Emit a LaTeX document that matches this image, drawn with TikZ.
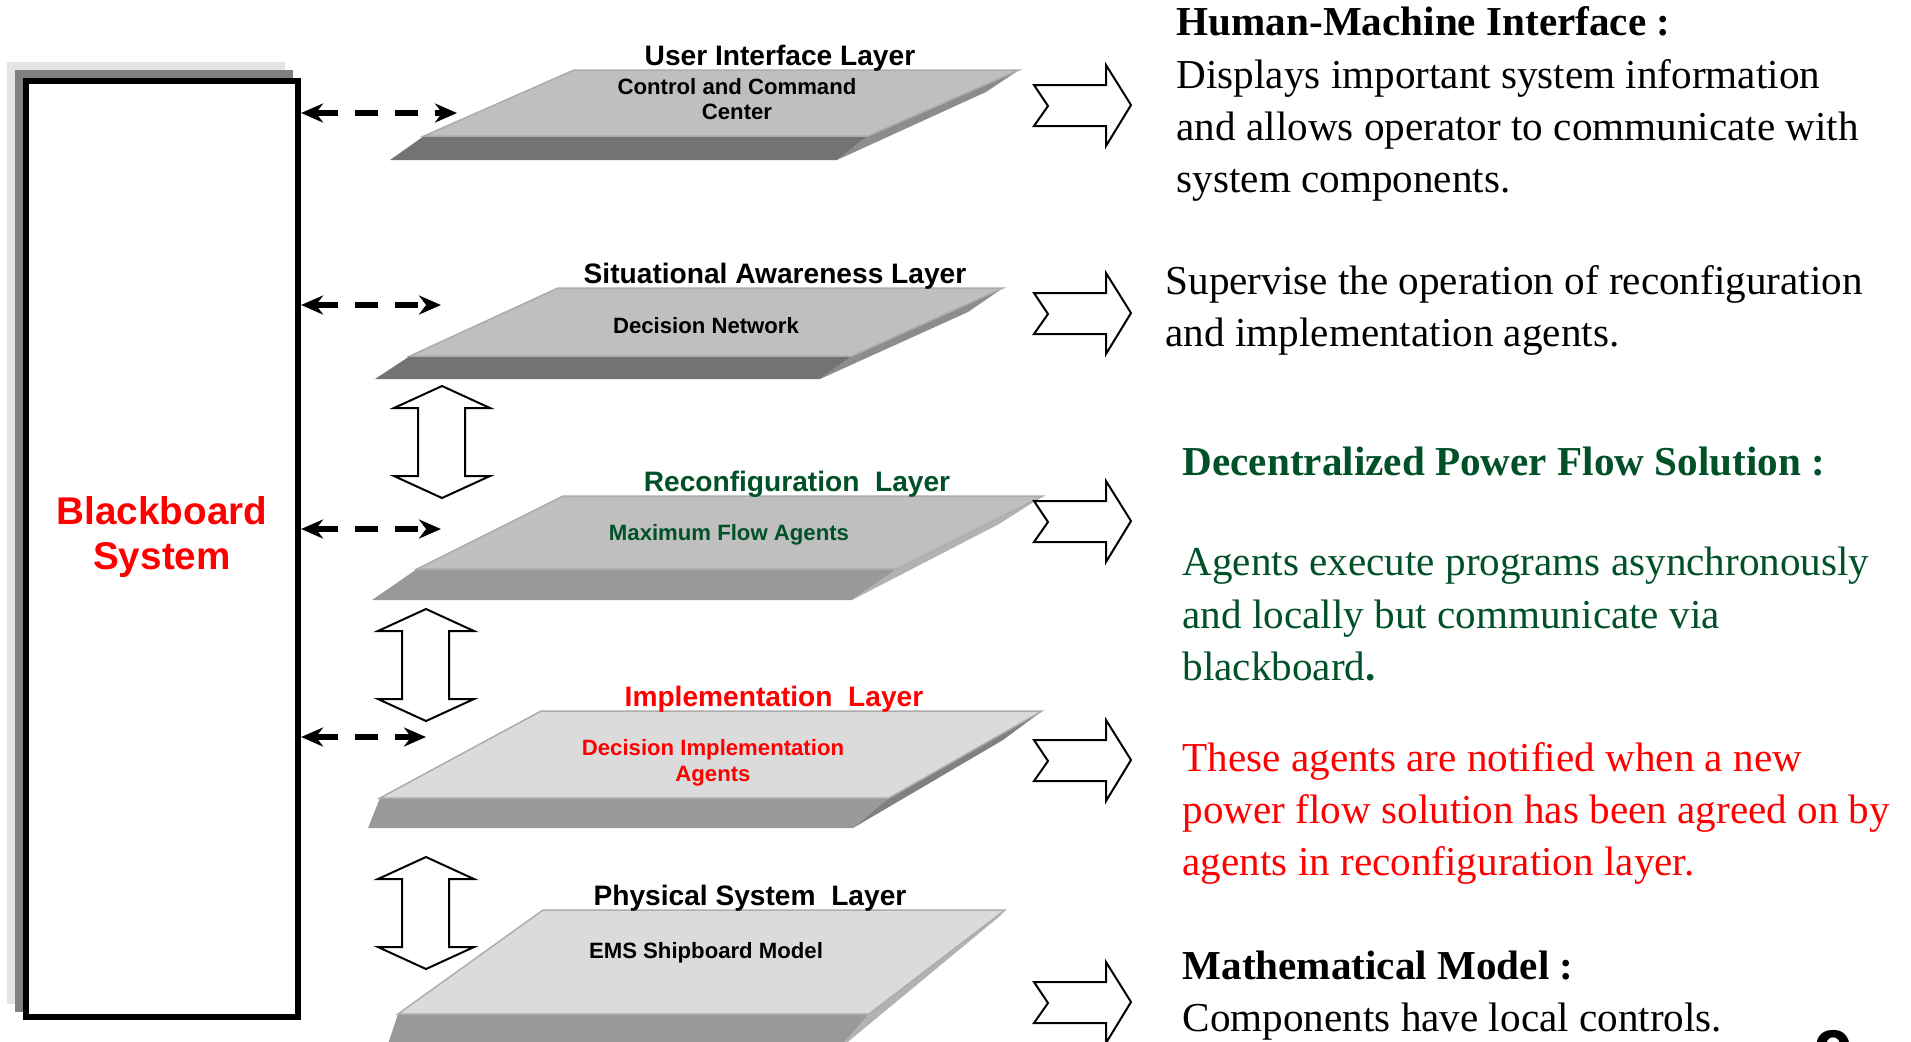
\documentclass[tikz,border=0pt]{standalone}
\usepackage{fontspec}
\setmainfont{Liberation Serif}
\newfontfamily\arialfont{Liberation Sans}
\usetikzlibrary{arrows.meta}

\definecolor{dkgreen}{RGB}{0,80,40}
\definecolor{shadowlt}{gray}{0.9}
\definecolor{shadowdk}{gray}{0.5}
\definecolor{topdark}{gray}{0.75}
\definecolor{toplight}{gray}{0.86}
\definecolor{frontdark}{gray}{0.45}
\definecolor{frontmid}{gray}{0.6}
\definecolor{sidedark}{gray}{0.55}
\definecolor{sidelight}{gray}{0.7}

\tikzset{
  layerlabel/.style={font=\arialfont\bfseries\fontsize{8}{9.6}\selectfont, inner sep=0pt},
  layertext/.style={font=\arialfont\bfseries\fontsize{6.3}{7.3}\selectfont, align=center, inner sep=0pt},
  dasharrow/.style={{Stealth[length=0.22cm,width=0.19cm]}-{Stealth[length=0.22cm,width=0.19cm]},
    line width=0.055cm, dash pattern=on 0.23cm off 0.17cm},
  hollowarrow/.style={draw=black, fill=white, line width=0.02cm, line join=miter},
  topedge/.style={draw=gray!65, line width=0.015cm},
  infotext/.style={font=\fontsize{11.7}{14.8}\selectfont, align=left, inner sep=0pt, anchor=west},
}

\begin{document}
\begin{tikzpicture}[x=0.01cm, y=-0.01cm]
  \useasboundingbox (0,0) rectangle (1911,1041);

  % blackboard with its shadow
  \fill[shadowlt] (7,62) rectangle (285,1004);
  \fill[shadowdk] (15,70) rectangle (293,1012);
  \node[draw, fill=white, line width=0.06cm, minimum width=2.72cm, minimum height=9.36cm, inner sep=0pt] (bb) at (162,549) {};
  \node[font=\arialfont\bfseries\fontsize{11}{12.8}\selectfont, text=red, align=center, inner sep=0pt] (bbtext) at (162,537) {Blackboard\\System};

  % user interface layer
  \fill[frontdark] (424,136) -- (868,136) -- (837,160) -- (390,160) -- cycle;
  \fill[sidedark] (1019,70) -- (986,92) -- (837,160) -- (868,136) -- cycle;
  \filldraw[fill=topdark, topedge] (574,70) -- (1019,70) -- (868,136) -- (424,136) -- cycle;
  \node[layerlabel] (uilabel) at (780,58) {User Interface Layer};
  \node[layertext] (uitext) at (737,99) {Control and Command\\Center};

  % situational awareness layer
  \fill[frontdark] (410,356) -- (852,356) -- (820,379) -- (375,379) -- cycle;
  \fill[sidedark] (1003,288) -- (968,312) -- (820,379) -- (852,356) -- cycle;
  \filldraw[fill=topdark, topedge] (558,288) -- (1003,288) -- (852,356) -- (410,356) -- cycle;
  \node[layerlabel] (salabel) at (775,276) {Situational Awareness Layer};
  \node[layertext] (satext) at (706,326) {Decision Network};

  % reconfiguration layer
  \fill[frontmid] (417,569) -- (897,569) -- (852,600) -- (372,600) -- cycle;
  \fill[sidelight] (1043,496) -- (999,524) -- (852,600) -- (897,569) -- cycle;
  \filldraw[fill=topdark, topedge] (563,496) -- (1043,496) -- (897,569) -- (417,569) -- cycle;
  \node[layerlabel, text=dkgreen] (rclabel) at (797,484) {Reconfiguration\ \ Layer};
  \node[layertext, text=dkgreen] (rctext) at (729,535) {Maximum Flow Agents};

  % implementation layer
  \fill[frontmid] (380,798) -- (889,798) -- (853,828) -- (368,828) -- cycle;
  \fill[shadowdk] (1042,711) -- (1003,740) -- (853,828) -- (889,798) -- cycle;
  \filldraw[fill=toplight, topedge] (541,711) -- (1042,711) -- (889,798) -- (380,798) -- cycle;
  \node[layerlabel, text=red] (imlabel) at (774,699) {Implementation\ \ Layer};
  \node[layertext, text=red] (imtext) at (713,763) {Decision Implementation\\Agents};

  % physical system layer
  \fill[frontmid] (398,1014) -- (869,1014) -- (838,1050) -- (386,1050) -- cycle;
  \fill[sidelight] (1005,910) -- (1000,916) -- (838,1050) -- (869,1014) -- cycle;
  \filldraw[fill=toplight, topedge] (543,910) -- (1005,910) -- (869,1014) -- (398,1014) -- cycle;
  \node[layerlabel] (pslabel) at (750,898) {Physical System\ \ Layer};
  \node[layertext] (pstext) at (706,953) {EMS Shipboard Model};

  % links to the blackboard
  \coordinate (uiin) at (457,113);
  \coordinate (sain) at (441,305);
  \coordinate (rcin) at (441,529);
  \coordinate (imin) at (426,737);
  \draw[dasharrow] (bb.east |- uiin) -- (uiin);
  \draw[dasharrow] (bb.east |- sain) -- (sain);
  \draw[dasharrow] (bb.east |- rcin) -- (rcin);
  \draw[dasharrow] (bb.east |- imin) -- (imin);

  % hollow arrows between layers
  \foreach \x/\y in {394/386, 378/609, 378/857}
    \draw[hollowarrow] (\x+48,\y) -- ++(48,22) -- ++(-25,0) -- ++(0,68) -- ++(25,0) -- ++(-48,22)
      -- ++(-48,-22) -- ++(24,0) -- ++(0,-68) -- ++(-24,0) -- cycle;

  % arrows to the descriptions
  \foreach \y in {65,273,481,720,962}
    \draw[hollowarrow] (1034,\y+20) -- ++(72,0) -- ++(0,-20) -- ++(25,40) -- ++(-25,41)
      -- ++(0,-20) -- ++(-72,0) -- ++(14,-20) -- cycle;

  % descriptions
  \node[infotext] (hmi) at (1176,104) {\textbf{Human-Machine Interface :}\\Displays important system information\\and allows operator to communicate with\\system components.};
  \node[infotext] (supervise) at (1165,310) {Supervise the operation of reconfiguration\\and implementation agents.};
  \node[infotext, text=dkgreen] (dpfhead) at (1182,461) {\textbf{Decentralized Power Flow Solution :}};
  \node[infotext, text=dkgreen] (dpf) at (1182,614) {Agents execute programs asynchronously\\and locally but communicate via\\blackboard\textbf{.}};
  \node[infotext, text=red] (notify) at (1182,813) {These agents are notified when a new\\power flow solution has been agreed on by\\agents in reconfiguration layer.};
  \node[infotext] (mathmodel) at (1182,996) {\textbf{Mathematical Model :}\\Components have local controls.};
  \node[font=\arialfont\bfseries\fontsize{20}{24}\selectfont, anchor=north, inner sep=0pt] (pagenum) at (1834,1030) {9};
\end{tikzpicture}
\end{document}
